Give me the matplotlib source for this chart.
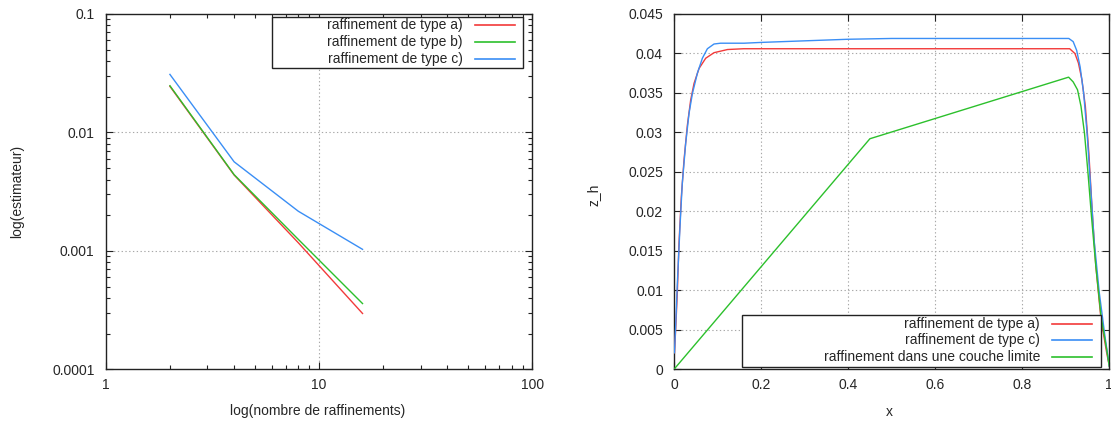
import matplotlib
matplotlib.use("Agg")
import matplotlib.pyplot as plt
from matplotlib.patches import Rectangle
from matplotlib.lines import Line2D
from matplotlib.ticker import FixedLocator, LogLocator, FuncFormatter, NullFormatter

# ---- convergence of the estimator (log-log) ----
n_raff = [2, 4, 8, 16]
est_type_a = [0.0245, 0.00437, 0.00117, 0.000296]
est_type_b = [0.0248, 0.00440, 0.00125, 0.000359]
est_type_c = [0.0309, 0.00565, 0.00216, 0.00103]
labels_left = ["raffinement de type a)", "raffinement de type b)", "raffinement de type c)"]

# ---- z_h profiles ----
x_type_a = [0.001, 0.0038, 0.0077, 0.0115, 0.0169, 0.023, 0.0307, 0.0383, 0.046, 0.0575,
            0.0729, 0.092, 0.123, 0.16, 0.3, 0.5, 0.7, 0.909, 0.921, 0.929, 0.937, 0.945,
            0.953, 0.961, 0.969, 0.981, 0.994, 1.0]
z_type_a = [0.0021, 0.0050, 0.0098, 0.0160, 0.0219, 0.0265, 0.0309, 0.0341, 0.0362, 0.0381,
            0.0394, 0.0401, 0.0405, 0.0406, 0.0406, 0.0406, 0.0406, 0.0406, 0.0400, 0.0388,
            0.0367, 0.0333, 0.0274, 0.0198, 0.0131, 0.0063, 0.0021, 0.0004]
x_type_c = [0.001, 0.0038, 0.0077, 0.0138, 0.019, 0.0268, 0.0345, 0.0422, 0.0537, 0.0652,
            0.0767, 0.092, 0.107, 0.161, 0.2, 0.3, 0.4, 0.5, 0.7, 0.907, 0.917, 0.925, 0.933,
            0.941, 0.949, 0.957, 0.965, 0.977, 0.99, 1.0]
z_type_c = [0.0021, 0.0054, 0.0109, 0.0181, 0.0235, 0.0286, 0.0324, 0.0349, 0.0375, 0.0394,
            0.0406, 0.0412, 0.0413, 0.0413, 0.0414, 0.0416, 0.0418, 0.0419, 0.0419, 0.0419,
            0.0415, 0.0404, 0.0383, 0.0350, 0.0299, 0.0232, 0.0164, 0.0097, 0.0042, 0.0004]
x_couche = [0.0, 0.45, 0.9065, 0.917, 0.927, 0.935, 0.943, 0.951, 0.959, 0.969, 0.981, 0.994, 1.0]
z_couche = [0.0, 0.0292, 0.0370, 0.0364, 0.0354, 0.0333, 0.0299, 0.0249, 0.0194, 0.0131,
            0.0067, 0.0025, 0.0004]
labels_right = ["raffinement de type a)", "raffinement de type c)",
                "raffinement dans une couche limite"]

C_RED = "#f23a3a"
C_GREEN = "#2cc02c"
C_BLUE = "#3a8ef5"
TXT = "#262626"
FS = 10

plt.rcParams["font.family"] = ["Liberation Sans", "DejaVu Sans"]
plt.rcParams["font.size"] = FS

fig = plt.figure(figsize=(11.11, 4.24), dpi=100)
ax1 = fig.add_axes([0.09514, 0.129, 0.38398, 0.838])
ax2 = fig.add_axes([0.60666, 0.129, 0.39181, 0.838])

grid_kw = dict(color="#a8a8a8", linewidth=0.8, linestyle=(0, (1.2, 2.2)))


def style_axes(ax):
    for sp in ax.spines.values():
        sp.set_color("#222222")
        sp.set_linewidth(1.0)
    ax.tick_params(which="both", direction="in", top=True, right=True,
                   colors="#222222", labelcolor=TXT, labelsize=FS)
    ax.tick_params(which="major", length=5, width=0.8)
    ax.tick_params(which="minor", length=2.8, width=0.8)
    ax.tick_params(axis="x", pad=6)
    ax.tick_params(axis="y", pad=8)


def gnuplot_key(ax, entries, box, text_right, sample, rows):
    x0, y0, x1, y1 = box
    ax.add_patch(Rectangle((x0, y0), x1 - x0, y1 - y0, transform=ax.transAxes,
                           facecolor="white", edgecolor="#222222", linewidth=1.0,
                           zorder=5))
    for (label, color), yr in zip(entries, rows):
        ax.text(text_right, yr, label, transform=ax.transAxes, ha="right",
                va="center", color=TXT, fontsize=FS, zorder=6)
        ax.add_line(Line2D(sample, [yr, yr], transform=ax.transAxes, color=color,
                           linewidth=1.2, zorder=6))


# ---- left panel ----
style_axes(ax1)
ax1.set_xscale("log")
ax1.set_yscale("log")
ax1.set_xlim(1, 100)
ax1.set_ylim(1e-4, 1e-1)
ax1.plot(n_raff, est_type_a, color=C_RED, linewidth=1.0, zorder=3)
ax1.plot(n_raff, est_type_b, color=C_GREEN, linewidth=1.0, zorder=3)
ax1.plot(n_raff, est_type_c, color=C_BLUE, linewidth=1.0, zorder=3)
ax1.xaxis.set_major_locator(FixedLocator([1, 10, 100]))
ax1.yaxis.set_major_locator(FixedLocator([1e-4, 1e-3, 1e-2, 1e-1]))
ax1.xaxis.set_minor_locator(LogLocator(base=10, subs=range(2, 10)))
ax1.yaxis.set_minor_locator(LogLocator(base=10, subs=range(2, 10)))
ax1.xaxis.set_minor_formatter(NullFormatter())
ax1.yaxis.set_minor_formatter(NullFormatter())
ax1.xaxis.set_major_formatter(FuncFormatter(lambda v, p: "%g" % v))
ax1.yaxis.set_major_formatter(FuncFormatter(lambda v, p: ("%.4f" % v).rstrip("0")))
for v in [10]:
    ax1.axvline(v, zorder=1, **grid_kw)
for v in [1e-3, 1e-2]:
    ax1.axhline(v, zorder=1, **grid_kw)
ax1.set_xlabel("log(nombre de raffinements)", color=TXT, fontsize=FS)
ax1.set_ylabel("log(estimateur)", color=TXT, fontsize=FS)
ax1.xaxis.label.set_va("center")
ax1.yaxis.label.set_va("center")
ax1.xaxis.set_label_coords(0.497, -0.117)
ax1.yaxis.set_label_coords(-0.208, 0.5)
gnuplot_key(ax1, list(zip(labels_left, [C_RED, C_GREEN, C_BLUE])),
            (0.389, 0.847, 0.979, 0.9907), 0.837, [0.866, 0.959],
            [0.969, 0.920, 0.8725])

# ---- right panel ----
style_axes(ax2)
ax2.set_xlim(0, 1)
ax2.set_ylim(0, 0.045)
ax2.plot(x_type_a, z_type_a, color=C_RED, linewidth=1.0, zorder=3)
ax2.plot(x_type_c, z_type_c, color=C_BLUE, linewidth=1.0, zorder=3)
ax2.plot(x_couche, z_couche, color=C_GREEN, linewidth=1.0, zorder=3)
xt = [0, 0.2, 0.4, 0.6, 0.8, 1.0]
yt = [0, 0.005, 0.01, 0.015, 0.02, 0.025, 0.03, 0.035, 0.04, 0.045]
ax2.xaxis.set_major_locator(FixedLocator(xt))
ax2.yaxis.set_major_locator(FixedLocator(yt))
ax2.xaxis.set_major_formatter(FuncFormatter(lambda v, p: "%g" % round(v, 3)))
ax2.yaxis.set_major_formatter(FuncFormatter(lambda v, p: "%g" % round(v, 4)))
for v in xt[1:-1]:
    ax2.axvline(v, zorder=1, **grid_kw)
for v in yt[1:-1]:
    ax2.axhline(v, zorder=1, **grid_kw)
ax2.set_xlabel("x", color=TXT, fontsize=FS)
ax2.set_ylabel("z_h", color=TXT, fontsize=FS)
ax2.xaxis.label.set_va("center")
ax2.yaxis.label.set_va("center")
ax2.xaxis.set_label_coords(0.494, -0.119)
ax2.yaxis.set_label_coords(-0.186, 0.49)
gnuplot_key(ax2, list(zip(labels_right, [C_RED, C_BLUE, C_GREEN])),
            (0.1555, 0.0073, 0.981, 0.1528), 0.841, [0.8677, 0.9596],
            [0.1275, 0.0825, 0.0338])

fig.savefig("out.png", dpi=100)
